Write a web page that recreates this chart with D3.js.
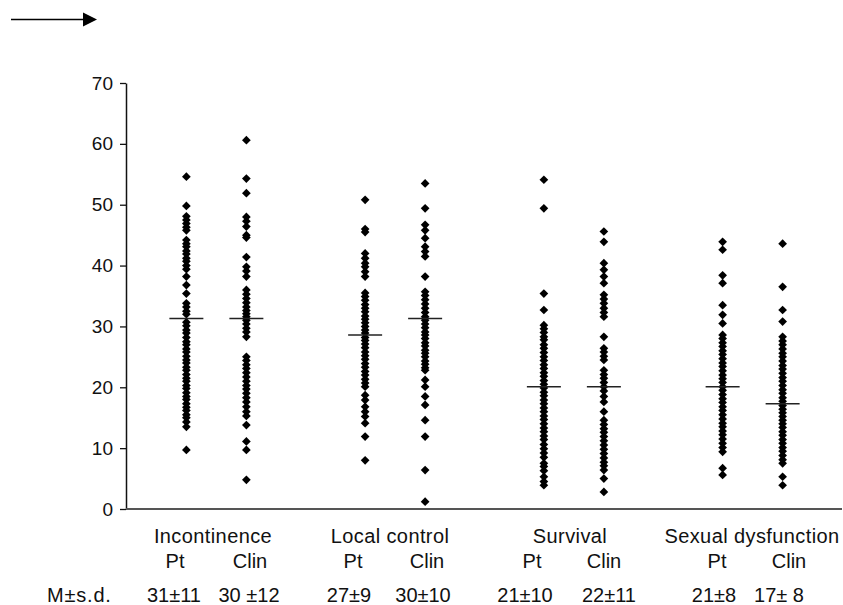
<!DOCTYPE html>
<html>
<head>
<meta charset="utf-8">
<script src="https://cdn.jsdelivr.net/npm/d3@7"></script>
<style>
  body { margin: 0; background: #fff; }
  svg text { font-family: "Liberation Sans", Arial, Helvetica, sans-serif; fill: #111; }
</style>
</head>
<body>
<div id="chart"></div>
<script>
// categories
const groups = ['Incontinence', 'Local control', 'Survival', 'Sexual dysfunction'];
const raters = ['Pt', 'Clin'];

// individual scores, one list per column
const incontinencePt = [54.6, 49.8, 48.1, 47.5, 46.9, 46.3, 45.8, 44.2, 43.6, 43.1, 42.4, 41.9, 41.2, 40.7, 40.0, 39.4,
  38.2, 36.8, 35.4, 33.8, 33.2, 32.5, 32.0, 30.7, 30.1, 29.4, 28.9, 28.2, 27.5, 27.0, 26.3, 25.8, 25.1, 24.5, 24.0,
  23.3, 22.8, 22.1, 21.5, 21.0, 20.3, 19.8, 19.1, 18.5, 18.0, 17.3, 16.7, 16.2, 15.5, 15.0, 14.3, 13.5, 9.7];
const incontinenceClin = [60.6, 54.3, 51.9, 48.0, 47.3, 46.4, 45.0, 44.6, 41.4, 39.8, 39.1, 38.2, 36.0, 35.3, 34.6,
  33.9, 33.2, 32.6, 32.1, 31.6, 31.0, 30.4, 29.7, 29.1, 28.3, 25.0, 24.4, 23.7, 23.1, 22.4, 21.7, 21.0, 20.3, 19.7,
  19.0, 18.3, 17.6, 16.8, 16.0, 15.3, 13.8, 11.1, 9.7, 4.8];
const localPt = [50.8, 46.0, 45.5, 42.0, 41.2, 40.4, 39.8, 39.0, 38.2, 35.5, 34.9, 34.3, 33.6, 33.0, 32.4, 31.7, 31.2,
  30.6, 30.0, 29.4, 28.9, 28.2, 27.7, 27.1, 26.5, 25.8, 25.2, 24.6, 23.9, 23.3, 22.6, 22.0, 21.3, 20.7, 20.1, 18.7,
  17.9, 16.8, 16.0, 15.2, 14.1, 11.9, 8.0];
const localClin = [53.5, 49.4, 46.7, 45.8, 44.5, 43.1, 42.3, 41.5, 38.2, 35.7, 35.1, 34.4, 33.7, 33.0, 32.3, 31.6,
  31.0, 30.4, 29.8, 29.1, 28.6, 28.0, 27.3, 26.8, 26.1, 25.6, 25.0, 24.3, 23.8, 23.2, 22.8, 21.2, 20.1, 18.5, 17.1,
  14.6, 11.9, 6.4, 1.2];
const survivalPt = [54.1, 49.4, 35.4, 32.7, 30.2, 29.6, 29.0, 28.3, 27.8, 27.0, 26.4, 25.7, 25.0, 24.4, 23.7, 23.1,
  22.4, 21.8, 21.1, 20.5, 19.9, 19.2, 18.6, 17.9, 17.3, 16.6, 16.0, 15.3, 14.7, 14.0, 13.3, 12.7, 12.0, 11.4, 10.6,
  9.9, 9.2, 8.5, 7.5, 7.0, 6.3, 5.3, 4.5, 3.9];
const survivalClin = [45.6, 43.9, 40.4, 39.3, 38.2, 37.1, 35.2, 34.5, 33.8, 33.0, 32.3, 31.6, 28.3, 26.4, 25.8, 25.1,
  24.5, 22.8, 22.1, 21.5, 20.8, 20.1, 19.4, 18.5, 17.6, 16.0, 14.6, 13.9, 13.2, 12.6, 11.9, 11.2, 10.5, 9.8, 9.1,
  8.4, 7.7, 7.1, 6.4, 5.0, 2.8];
const sexualPt = [43.9, 42.6, 38.4, 37.1, 33.5, 31.9, 30.5, 28.6, 28.0, 27.3, 26.7, 26.0, 25.4, 24.7, 24.0, 23.4,
  22.7, 22.0, 21.4, 20.8, 20.1, 19.5, 18.8, 18.1, 17.5, 16.8, 16.2, 15.5, 14.8, 14.1, 13.5, 12.8, 12.2, 11.5, 10.8,
  10.1, 9.4, 6.7, 5.6];
const sexualClin = [43.6, 36.5, 32.7, 30.8, 28.3, 27.6, 27.0, 26.3, 25.6, 25.0, 24.3, 23.6, 23.0, 22.3, 21.6, 21.0,
  20.3, 19.6, 19.0, 18.3, 17.7, 17.0, 16.4, 15.8, 15.2, 14.6, 14.0, 13.4, 12.7, 12.1, 11.4, 10.8, 10.1, 9.5, 8.8,
  8.1, 7.5, 5.3, 3.9];

// horizontal marker drawn at each column's mean, as plotted
const meanLines = [31.3, 31.3, 28.6, 31.3, 20.1, 20.1, 20.1, 17.3];
// summary row under the axis
const summaryLabels = ['31±11', '30 ±12', '27±9', '30±10', '21±10', '22±11', '21±8', '17± 8'];
const yTicks = [0, 10, 20, 30, 40, 50, 60, 70];

const columns = [
  { group: groups[0], rater: 'Pt', values: incontinencePt },
  { group: groups[0], rater: 'Clin', values: incontinenceClin },
  { group: groups[1], rater: 'Pt', values: localPt },
  { group: groups[1], rater: 'Clin', values: localClin },
  { group: groups[2], rater: 'Pt', values: survivalPt },
  { group: groups[2], rater: 'Clin', values: survivalClin },
  { group: groups[3], rater: 'Pt', values: sexualPt },
  { group: groups[3], rater: 'Clin', values: sexualClin }
];
columns.forEach((c, i) => { c.mean = meanLines[i]; c.summary = summaryLabels[i]; });

const width = 843;
const height = 605;
const left = 126;

const svg = d3.select('#chart').append('svg')
    .attr('width', width)
    .attr('height', height);

// Scales
const y = d3.scaleLinear().domain([0, 70]).range([509, 83]);
const xGroup = d3.scaleBand().domain(groups).range([127, 842]);
const xRater = d3.scalePoint().domain(raters).range([-30, 30]);
const colX = c => xGroup(c.group) + xGroup.bandwidth() / 2 + xRater(c.rater);

// Arrow at top left
svg.append('line')
    .attr('x1', 11).attr('y1', 19.5)
    .attr('x2', 85).attr('y2', 19.5)
    .attr('stroke', '#000')
    .attr('stroke-width', 1.5);
svg.append('path')
    .attr('d', 'M83,12.5 L97,19.5 L83,26.5 Z')
    .attr('fill', '#000');

// Y axis
const yAxis = svg.append('g')
    .attr('transform', `translate(${left},0)`)
    .call(d3.axisLeft(y).tickValues(yTicks).tickSize(6).tickSizeOuter(0).tickPadding(7));
yAxis.select('.domain').attr('stroke', '#111').attr('stroke-width', 1.5);
yAxis.selectAll('.tick line').attr('stroke', '#111').attr('stroke-width', 1.3);
yAxis.selectAll('.tick text')
    .attr('font-size', '19px')
    .attr('font-family', '"Liberation Sans", Arial, sans-serif')
    .attr('fill', '#111');

// X axis line
svg.append('line')
    .attr('x1', left).attr('y1', y(0))
    .attr('x2', 842).attr('y2', y(0))
    .attr('stroke', '#555')
    .attr('stroke-width', 2);

// Points
const diamond = d3.symbol().type(d3.symbolSquare).size(38);
columns.forEach(c => {
    svg.append('g')
        .selectAll('path')
        .data(c.values)
        .enter()
        .append('path')
        .attr('d', diamond)
        .attr('fill', '#000')
        .attr('transform', d => `translate(${colX(c)},${y(d)}) rotate(45)`);
});

// Mean markers
svg.append('g')
    .selectAll('line')
    .data(columns)
    .enter()
    .append('line')
    .attr('x1', c => colX(c) - 17)
    .attr('x2', c => colX(c) + 17)
    .attr('y1', c => y(c.mean))
    .attr('y2', c => y(c.mean))
    .attr('stroke', '#222')
    .attr('stroke-width', 1.5);

// Category labels
const groupLabelX = [213, 390, 570, 752];
svg.append('g')
    .selectAll('text')
    .data(groups)
    .enter()
    .append('text')
    .attr('x', (d, i) => groupLabelX[i])
    .attr('y', 543)
    .attr('text-anchor', 'middle')
    .attr('font-size', '20px')
    .attr('letter-spacing', '0.4px')
    .text(d => d);

const raterLabelX = [175, 250, 353, 427, 532, 604, 717, 789];
svg.append('g')
    .selectAll('text')
    .data(columns)
    .enter()
    .append('text')
    .attr('x', (c, i) => raterLabelX[i])
    .attr('y', 568)
    .attr('text-anchor', 'middle')
    .attr('font-size', '20px')
    .text(c => c.rater);

// M±s.d. row
svg.append('text')
    .attr('x', 47)
    .attr('y', 602)
    .attr('font-size', '20px')
    .attr('letter-spacing', '0.8px')
    .text('M±s.d.');

const summaryX = [174, 249, 349, 423, 525, 609, 714, 779];
svg.append('g')
    .selectAll('text')
    .data(columns)
    .enter()
    .append('text')
    .attr('x', (c, i) => summaryX[i])
    .attr('y', 602)
    .attr('text-anchor', 'middle')
    .attr('font-size', '20px')
    .text(c => c.summary);
</script>
</body>
</html>
